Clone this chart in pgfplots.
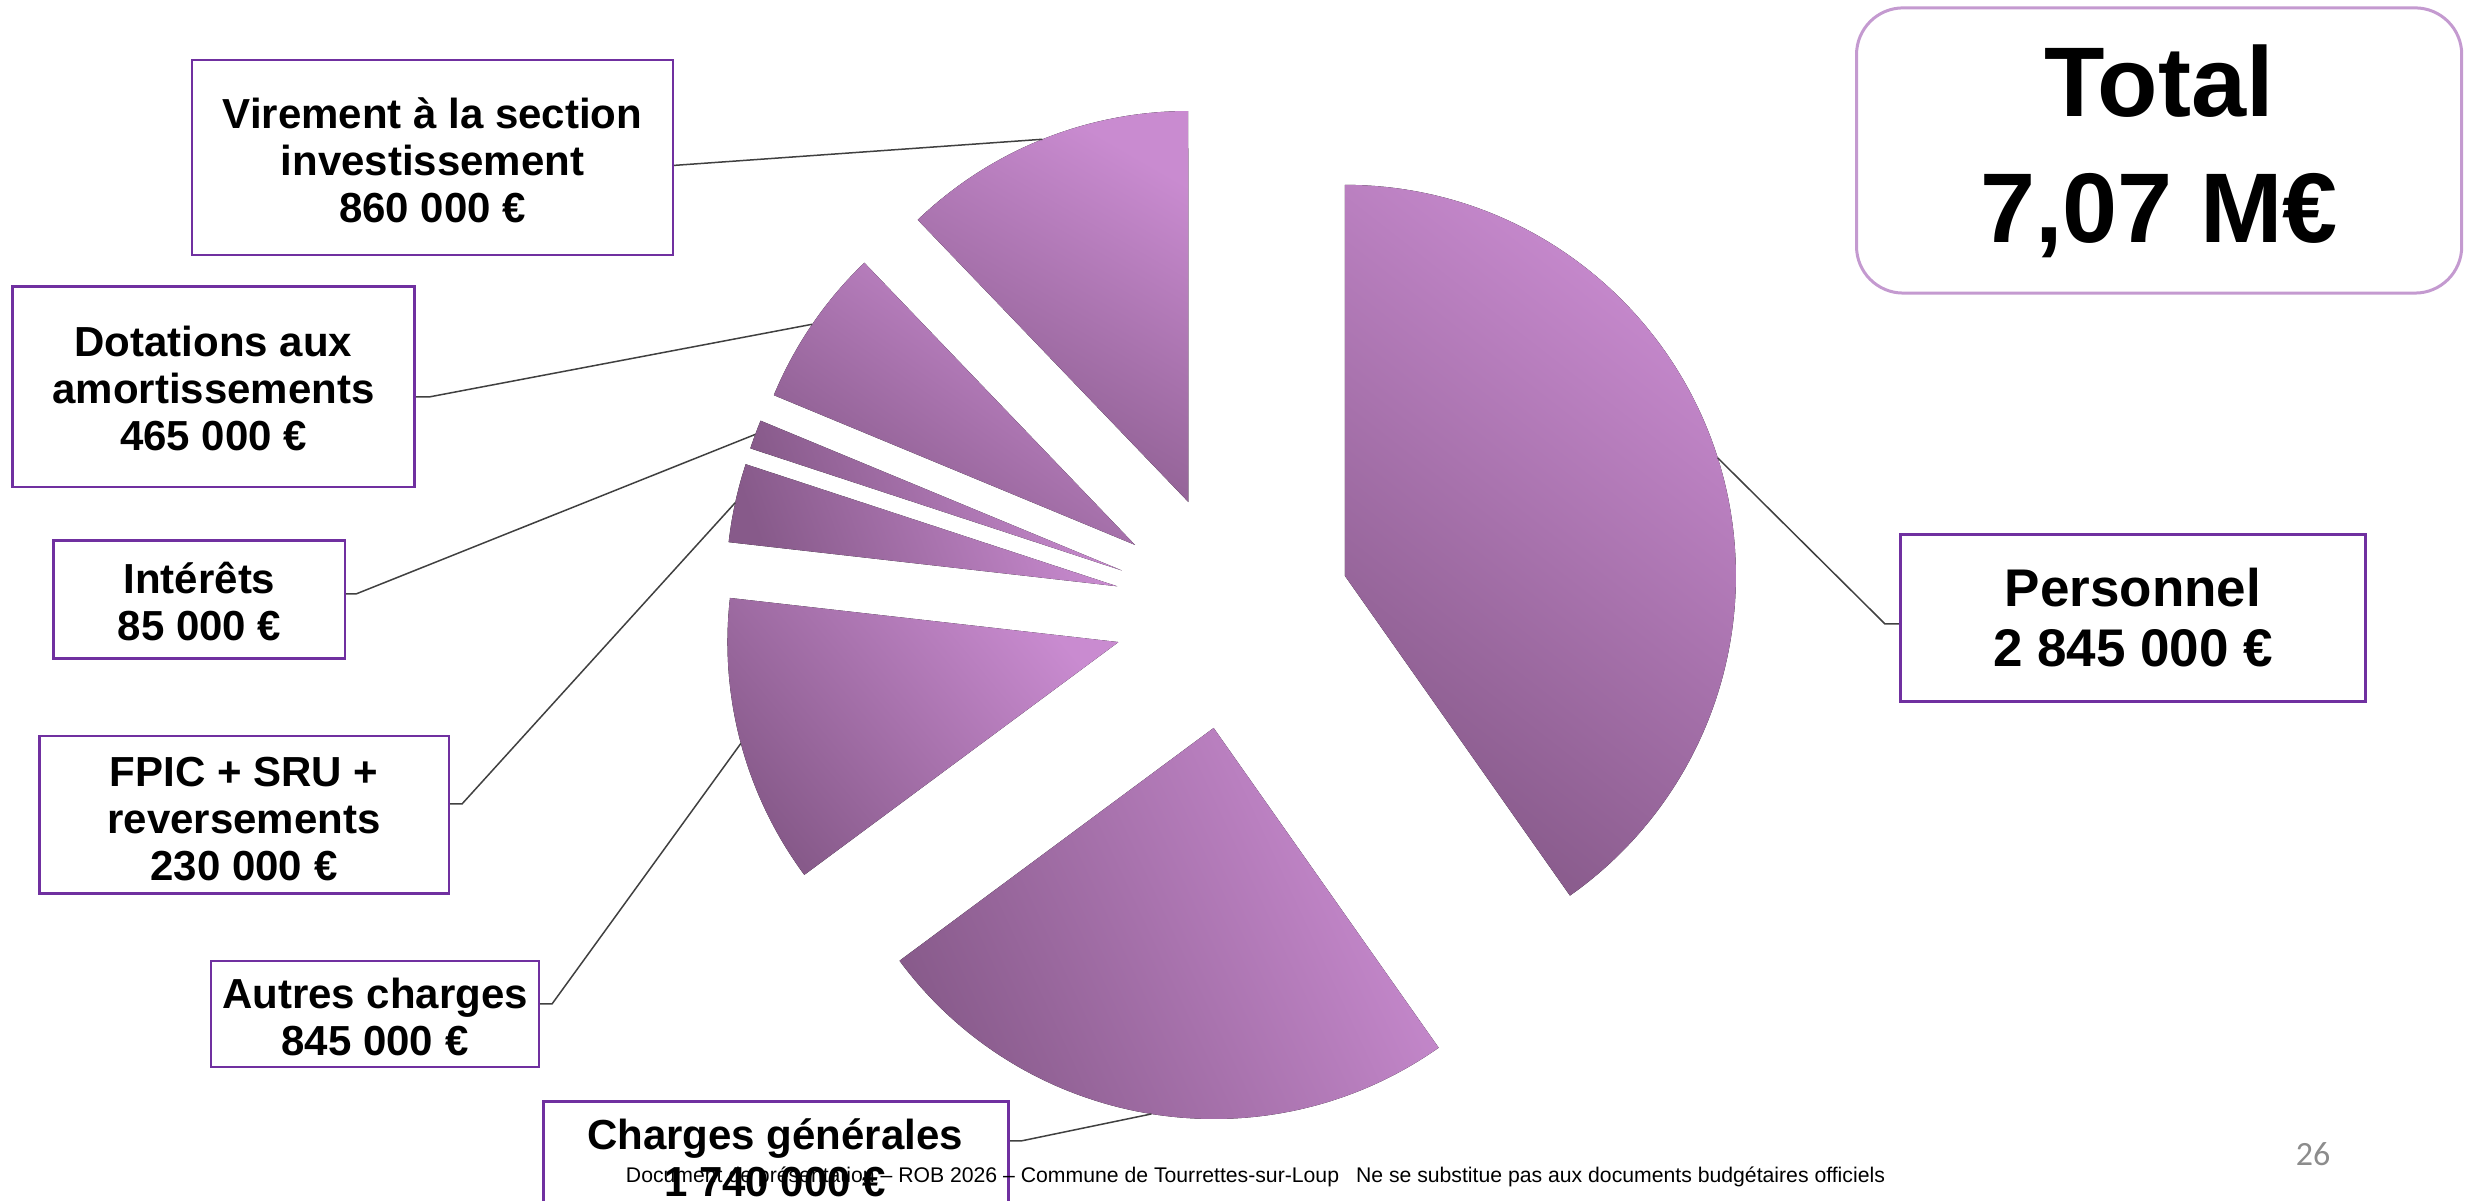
\documentclass[border=0pt]{standalone}
\usepackage{pgfplots}
\pgfplotsset{compat=1.18}
\usetikzlibrary{calc}
\usepackage{fontspec}
\setmainfont{Liberation Sans}
\newfontfamily\pagefont{Carlito}
\definecolor{slicelight}{HTML}{C98BD0}
\definecolor{slicedark}{HTML}{875A8A}
\definecolor{boxpurple}{HTML}{7030A0}
\definecolor{totalframe}{HTML}{C49AD0}
\definecolor{leader}{HTML}{404040}
\definecolor{pagegray}{HTML}{8C8C8C}

% ---- data (k EUR) ----
\def\vPers{2845}
\def\vChg{1740}
\def\vAut{845}
\def\vFpic{230}
\def\vInt{85}
\def\vDot{465}
\def\vVir{860}
\pgfmathsetmacro\totalval{\vPers+\vChg+\vAut+\vFpic+\vInt+\vDot+\vVir}

\def\cumangle{90}
\newcommand\defslice[2]{%
  \pgfmathsetmacro\tmpS{\cumangle}%
  \pgfmathsetmacro\tmpE{\cumangle-#2/\totalval*360}%
  \pgfmathsetmacro\tmpM{(\tmpS+\tmpE)/2}%
  \expandafter\let\csname s#1\endcsname\tmpS
  \expandafter\let\csname e#1\endcsname\tmpE
  \expandafter\let\csname m#1\endcsname\tmpM
  \let\cumangle\tmpE
}
\defslice{P}{\vPers}
\defslice{C}{\vChg}
\defslice{A}{\vAut}
\defslice{F}{\vFpic}
\defslice{I}{\vInt}
\defslice{D}{\vDot}
\defslice{V}{\vVir}

% pie geometry (axis units: 1 unit = 0.3pt)
\def\cx{1232.4}
\def\cy{589.5}
\newcommand\drawslice[2]{%
  \fill[top color=slicelight, bottom color=slicedark, shading angle=#2]
   ($(axis cs:\cx,\cy)+(\csname m#1\endcsname:35.4pt)$)
   -- ++(\csname s#1\endcsname:117.3pt)
   arc[start angle=\csname s#1\endcsname, end angle=\csname e#1\endcsname, radius=117.3pt]
   -- cycle;
}
\newcommand\leaderline[2]{% start point, slice
  \draw[leader, line width=0.45pt] #1 -- ($(axis cs:\cx,\cy)+(\csname m#2\endcsname:152.7pt)$);
}

\begin{document}
\begin{tikzpicture}
\useasboundingbox (0,0) rectangle (741.3pt,360.3pt);
\begin{axis}[
  scale only axis, width=741.3pt, height=360.3pt,
  xmin=0, xmax=2471, ymin=0, ymax=1201,
  hide axis, clip=false,
]
% slices
\drawslice{P}{-38}
\drawslice{C}{-65}
\drawslice{A}{-50}
\drawslice{F}{-70}
\drawslice{I}{-70}
\drawslice{D}{-35}
\drawslice{V}{-30}

% leader lines
\leaderline{(axis cs:673,1035.5)}{V}
\leaderline{(axis cs:414.5,804) -- (axis cs:429,804)}{D}
\leaderline{(axis cs:345,607) -- (axis cs:356,607)}{I}
\leaderline{(axis cs:449,397) -- (axis cs:462,397)}{F}
\leaderline{(axis cs:539,197) -- (axis cs:552,197)}{A}
\leaderline{(axis cs:1008.6,60) -- (axis cs:1021,60)}{C}
\leaderline{(axis cs:1900.7,577) -- (axis cs:1885,577)}{P}

% label boxes
\begin{scope}[boxpurple, line width=0.8pt]
\draw (axis cs:192,946) rectangle (axis cs:673,1141);
\draw (axis cs:12.6,714) rectangle (axis cs:414.5,914.2);
\draw (axis cs:53.6,542.2) rectangle (axis cs:345,660.4);
\draw (axis cs:39.4,307.4) rectangle (axis cs:449,465);
\draw (axis cs:211,134) rectangle (axis cs:539,240);
\draw (axis cs:543.7,-80) rectangle (axis cs:1008.6,99.4);
\draw (axis cs:1900.7,499.7) rectangle (axis cs:2365.6,666.7);
\end{scope}

\tikzset{lbl/.style={align=center, inner sep=0pt, font=\bfseries\fontsize{12.6}{14.1}\selectfont}}
\node[lbl] at (axis cs:432.5,1040.5) {Virement à la section\\investissement\\860 000 €};
\node[lbl] at (axis cs:213.5,812.5) {Dotations aux\\amortissements\\465 000 €};
\node[lbl] at (axis cs:199.5,599.5) {Intérêts\\85 000 €};
\node[lbl] at (axis cs:244,381.5) {FPIC + SRU +\\reversements\\230 000 €};
\node[lbl] at (axis cs:375,183.5) {Autres charges\\845 000 €};
\node[lbl] at (axis cs:775,43.5) {Charges générales\\1 740 000 €};
\node[align=center, inner sep=0pt, font=\bfseries\fontsize{15.9}{18}\selectfont] at (axis cs:2133,583) {Personnel\\2 845 000 €};

% total box
\draw[totalframe, line width=0.9pt, rounded corners=14pt] (axis cs:1856.5,907.9) rectangle (axis cs:2461.7,1193.1);
\node[align=center, inner sep=0pt, font=\bfseries\fontsize{29.7}{37.8}\selectfont] at (axis cs:2159,1050) {Total\\7,07 M€};

% footer
\node[inner sep=0pt] at (axis cs:1255.5,24) {\resizebox{377.7pt}{!}{\fontsize{7}{8}\selectfont Document de présentation – ROB 2026 – Commune de Tourrettes-sur-Loup\hspace{0.8em}Ne se substitue pas aux documents budgétaires officiels}};
\node[inner sep=0pt, text=pagegray, font=\pagefont\fontsize{10.2}{12}\selectfont] at (axis cs:2313,47) {26};
\end{axis}
\end{tikzpicture}
\end{document}
